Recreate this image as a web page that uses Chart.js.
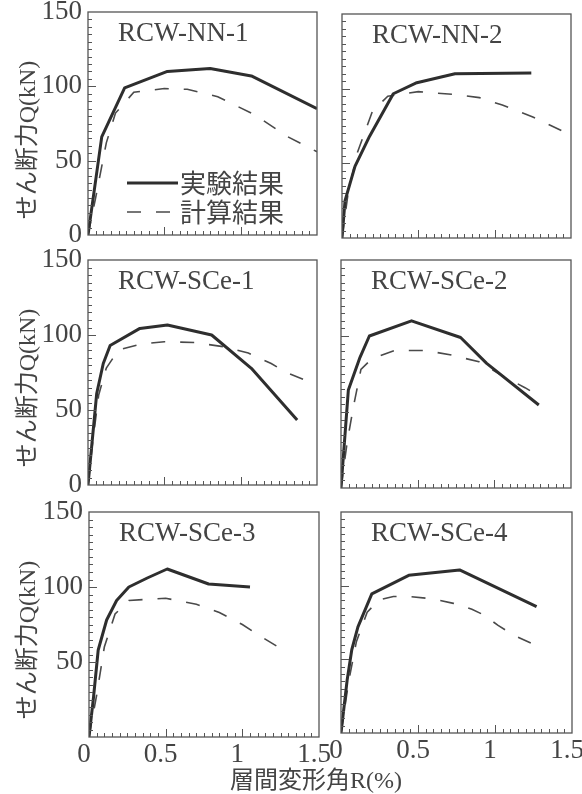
<!DOCTYPE html>
<html><head><meta charset="utf-8">
<script src="https://cdn.jsdelivr.net/npm/chart.js@4.4.0/dist/chart.umd.min.js"></script>
<style>
html,body{margin:0;background:#fff;}
#page{position:relative;width:582px;height:794px;overflow:hidden;background:#fff;}
canvas{position:absolute;}
.ttl{position:absolute;font:24px "Liberation Serif","Noto Sans CJK JP",serif;color:#444;white-space:nowrap;line-height:1;}
.ytl{transform:translate(-50%,-50%) rotate(-90deg);}
.xtl{transform:translate(-50%,-50%);}
</style></head>
<body><div id="page"></div>
<script>
const seriesNames = ['実験結果', '計算結果'];
const panelTitles = ['RCW-NN-1', 'RCW-NN-2', 'RCW-SCe-1', 'RCW-SCe-2', 'RCW-SCe-3', 'RCW-SCe-4'];
const yTitle = 'せん断力Q(kN)';
const xTitle = '層間変形角R(%)';
const rTicks = [0, 0.5, 1, 1.5];
const qTicks = [0, 50, 100, 150];

// RCW-NN-1
const nn1ExpR = [0, 0.09, 0.24, 0.52, 0.80, 1.07, 1.5];
const nn1ExpQ = [0, 66, 99, 110, 112, 107, 85];
const nn1CalR = [0, 0.05, 0.12, 0.18, 0.3, 0.5, 0.65, 0.85, 1.09, 1.31, 1.5];
const nn1CalQ = [0, 25, 62, 82, 96, 98.5, 98, 93, 81, 66, 56];
// RCW-NN-2
const nn2ExpR = [0, 0.02, 0.085, 0.18, 0.336, 0.49, 0.74, 1.24];
const nn2ExpQ = [0, 25, 48, 68, 96.6, 104, 110, 110.5];
const nn2CalR = [0, 0.04, 0.1, 0.2, 0.3, 0.5, 0.75, 0.9, 1.05, 1.25, 1.5];
const nn2CalQ = [0, 30, 57, 85, 95, 98, 96, 94, 89, 81, 69];
// RCW-SCe-1
const sc1ExpR = [0, 0.057, 0.1, 0.145, 0.34, 0.52, 0.81, 1.07, 1.37];
const sc1ExpQ = [0, 61, 81, 93, 104.4, 106.7, 100, 77.8, 43.3];
const sc1CalR = [0, 0.03, 0.07, 0.12, 0.2, 0.35, 0.5, 0.7, 0.9, 1.05, 1.2, 1.3, 1.42];
const sc1CalQ = [0, 28, 60, 78, 90, 94, 95.5, 95, 92, 88, 81, 75, 70];
// RCW-SCe-2
const sc2ExpR = [0, 0.048, 0.124, 0.185, 0.46, 0.78, 0.95, 1.29];
const sc2ExpQ = [0, 64.5, 86, 100, 110, 99, 82, 54.6];
const sc2CalR = [0, 0.04, 0.08, 0.13, 0.2, 0.35, 0.55, 0.72, 0.9, 1.05, 1.2, 1.3];
const sc2CalQ = [0, 30, 53, 78, 85, 90.5, 90.5, 87.5, 83, 74, 66, 60];
// RCW-SCe-3
const sc3ExpR = [0, 0.03, 0.06, 0.115, 0.18, 0.26, 0.38, 0.51, 0.78, 1.05];
const sc3ExpQ = [0, 27, 58, 78, 91, 100, 106, 112, 102, 100];
const sc3CalR = [0, 0.05, 0.1, 0.17, 0.26, 0.5, 0.7, 0.85, 1.0, 1.12, 1.25];
const sc3CalQ = [0, 28, 60, 82, 91, 92.5, 88.5, 83, 75, 67, 59];
// RCW-SCe-4
const sc4ExpR = [0, 0.04, 0.07, 0.11, 0.2, 0.44, 0.77, 1.27];
const sc4ExpQ = [0, 36, 56.5, 72, 94.4, 107, 110.7, 85.8];
const sc4CalR = [0, 0.05, 0.1, 0.17, 0.25, 0.34, 0.45, 0.6, 0.73, 0.85, 0.93, 1.02, 1.12, 1.26];
const sc4CalQ = [0, 35, 62, 82, 90.5, 92.6, 92.6, 91, 88, 84, 80, 73, 66.5, 59.7];

const panels = [
  [nn1ExpR, nn1ExpQ, nn1CalR, nn1CalQ], [nn2ExpR, nn2ExpQ, nn2CalR, nn2CalQ],
  [sc1ExpR, sc1ExpQ, sc1CalR, sc1CalQ], [sc2ExpR, sc2ExpQ, sc2CalR, sc2CalQ],
  [sc3ExpR, sc3ExpQ, sc3CalR, sc3CalQ], [sc4ExpR, sc4ExpQ, sc4CalR, sc4CalQ]
];
// plot boxes: left, top, width, height
const boxes = [
  [88, 12, 229, 223], [342, 14, 229, 224],
  [88, 260, 229, 225], [341, 260, 230, 228],
  [89, 512, 230, 225], [341, 512, 231, 221]
];

const ink = '#444';
const serif = '"Liberation Serif", "Noto Sans CJK JP", serif';
const pts = (xs, ys) => xs.map((x, i) => ({x, y: ys[i]}));

// box + inward minor/major ticks
const frame = {
  id: 'frame',
  afterDraw(chart) {
    const {ctx, chartArea: a, scales: {x, y}} = chart;
    ctx.save();
    ctx.strokeStyle = '#555'; ctx.lineWidth = 1.3;
    ctx.strokeRect(a.left, a.top, a.width, a.height);
    ctx.beginPath();
    for (let i = 1; i < 30; i++) {
      const px = Math.round(x.getPixelForValue(i * 0.05)) + 0.5, len = i % 10 ? 4 : 8;
      ctx.moveTo(px, a.bottom); ctx.lineTo(px, a.bottom - len);
    }
    for (let i = 1; i < 30; i++) {
      const py = Math.round(y.getPixelForValue(i * 5)) + 0.5, len = i % 10 ? 4 : 8;
      ctx.moveTo(a.left, py); ctx.lineTo(a.left + len, py);
    }
    ctx.lineWidth = 1; ctx.stroke();
    ctx.restore();
  }
};
const panelTitle = {
  id: 'panelTitle',
  afterDraw(chart, args, opts) {
    const {ctx, chartArea: a} = chart;
    ctx.save();
    ctx.font = '27px ' + serif; ctx.fillStyle = ink;
    ctx.textBaseline = 'middle'; ctx.textAlign = 'left';
    ctx.fillText(opts.text, a.left + 30, a.top + 22);
    ctx.restore();
  }
};
const seriesKey = {
  id: 'seriesKey',
  afterDraw(chart, args, opts) {
    if (!opts.show) return;
    const {ctx, chartArea: a} = chart;
    ctx.save();
    chart.data.datasets.forEach((ds, i) => {
      const yy = a.top + 171 + i * 29;
      ctx.strokeStyle = ds.borderColor; ctx.lineWidth = ds.borderWidth;
      ctx.setLineDash(ds.borderDash || []);
      ctx.beginPath(); ctx.moveTo(a.left + 39, yy); ctx.lineTo(a.left + 90, yy); ctx.stroke();
      ctx.setLineDash([]);
      ctx.font = '26px "Noto Sans CJK JP", sans-serif'; ctx.fillStyle = ink;
      ctx.textBaseline = 'middle'; ctx.textAlign = 'left';
      ctx.fillText(ds.label, a.left + 92, yy);
    });
    ctx.restore();
  }
};

const page = document.getElementById('page');
panels.forEach((p, i) => {
  const col = i % 2, row = Math.floor(i / 2);
  const [bl, bt, bw, bh] = boxes[i];
  const L = col ? 20 : bl, R = col ? 582 - (bl + bw) : 334 - (bl + bw);
  const T = 12, B = row < 2 ? 14 : 40;
  const cv = document.createElement('canvas');
  cv.width = L + bw + R; cv.height = T + bh + B;
  cv.style.left = (bl - L) + 'px'; cv.style.top = (bt - T) + 'px';
  cv.style.width = cv.width + 'px'; cv.style.height = cv.height + 'px';
  page.appendChild(cv);
  new Chart(cv, {
    type: 'scatter',
    data: { datasets: [
      { label: seriesNames[0], data: pts(p[0], p[1]), showLine: true, borderColor: '#2e2e2e', borderWidth: 3, pointRadius: 0, borderJoinStyle: 'round' },
      { label: seriesNames[1], data: pts(p[2], p[3]), showLine: true, borderColor: '#4a4a4a', borderWidth: 1.6, borderDash: [14, 15], pointRadius: 0 }
    ]},
    options: {
      responsive: false, animation: false, devicePixelRatio: 1,
      layout: { autoPadding: false, padding: { left: 0, right: R, top: T, bottom: 0 } },
      plugins: { legend: { display: false }, tooltip: { enabled: false },
        panelTitle: { text: panelTitles[i] }, seriesKey: { show: i === 0 } },
      scales: {
        x: { type: 'linear', min: rTicks[0], max: rTicks[rTicks.length - 1],
          grid: { display: false, drawTicks: false }, border: { display: false },
          ticks: { display: row === 2, padding: 2, labelOffset: -5, color: ink, font: { family: serif, size: 27 }, maxRotation: 0, callback: v => String(v) },
          afterBuildTicks: s => { s.ticks = rTicks.map(v => ({value: v})); },
          afterFit: s => { s.height = B; s.paddingLeft = 0; s.paddingRight = 0; } },
        y: { type: 'linear', min: qTicks[0], max: qTicks[qTicks.length - 1],
          grid: { display: false, drawTicks: false }, border: { display: false },
          ticks: { display: col === 0, padding: 6, color: ink, font: { family: serif, size: 27 }, callback: v => (row === 2 && v === 0) ? '' : String(v) },
          afterBuildTicks: s => { s.ticks = qTicks.map(v => ({value: v})); },
          afterFit: s => { s.width = L; s.paddingTop = 0; s.paddingBottom = 0; } }
      }
    },
    plugins: [frame, panelTitle, seriesKey]
  });
});

[140, 388, 640].forEach(cy => {
  const d = document.createElement('div');
  d.className = 'ttl ytl'; d.textContent = yTitle;
  d.style.left = '27px'; d.style.top = cy + 'px';
  page.appendChild(d);
});
const xt = document.createElement('div');
xt.className = 'ttl xtl'; xt.textContent = xTitle;
xt.style.left = '316px'; xt.style.top = '780px';
page.appendChild(xt);
</script></body></html>
